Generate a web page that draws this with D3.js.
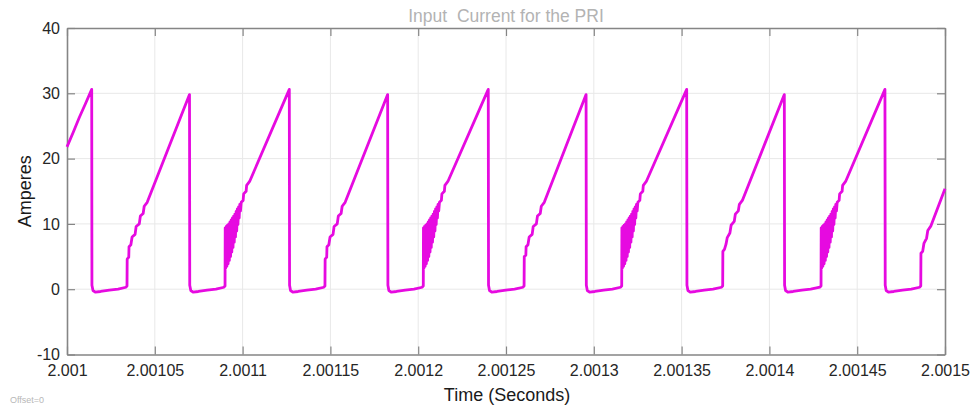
<!DOCTYPE html>
<html>
<head>
<meta charset="utf-8">
<script src="https://cdn.jsdelivr.net/npm/d3@7"></script>
<style>
  html, body { margin: 0; padding: 0; background: #fff; }
  svg { display: block; font-family: "Liberation Sans", Arial, sans-serif; }
</style>
</head>
<body>
<svg id="chart" width="973" height="410"></svg>
<script>
// ---- Data (time in microseconds after 2.001 s, current in amperes) ----
const T0 = 2.001;
const xTickValues = [2.001, 2.00105, 2.0011, 2.00115, 2.0012, 2.00125, 2.0013, 2.00135, 2.0014, 2.00145, 2.0015];
const xTickLabels = ["2.001", "2.00105", "2.0011", "2.00115", "2.0012", "2.00125", "2.0013", "2.00135", "2.0014", "2.00145", "2.0015"];
const yTickValues = [-10, 0, 10, 20, 30, 40];
const yTickLabels = ["-10", "0", "10", "20", "30", "40"];

const startRamp = [[0.0,21.8],[3.5,24.0],[7.0,26.3],[10.5,28.4],[14.07,30.6]];
const cycle1 = [[14.2,0.6],[14.8,-0.2],[16.1,-0.45],[19.1,-0.35],[24.1,-0.15],[29.1,0.0],[33.6,0.3],
  [34.17,0.5],[34.27,4.6],[35.17,4.9],[35.32,6.5],[36.37,6.8],[37.07,8.0],[38.77,8.4],[39.37,9.6],
  [41.17,10.0],[41.77,11.2],[43.37,11.6],[43.97,12.7],[45.67,13.3],[69.76,29.8]];
const cycle2 = [[69.9,0.6],[70.5,-0.2],[71.8,-0.45],[74.8,-0.35],[79.8,-0.15],[84.8,0.0],[89.4,0.3],
  [90.00,0.5],[90.10,9.4],[90.35,3.2],[90.70,9.6],[91.05,3.5],[91.40,9.8],[91.75,3.9],[92.10,10.0],
  [92.45,4.4],[92.80,10.3],[93.15,5.0],[93.50,10.6],[93.85,5.7],[94.20,10.9],[94.55,6.4],[94.90,11.2],
  [95.25,7.2],[95.60,11.5],[95.95,8.0],[96.30,11.9],[96.65,8.9],[97.00,12.3],[97.35,9.9],[97.70,12.6],
  [98.05,10.9],[98.40,13.0],[98.80,12.0],[99.20,13.3],[100.3,13.6],[100.6,14.6],[102.0,15.0],
  [102.3,15.9],[104.0,16.5],[126.6,30.6]];
const cycle3 = [[126.75,0.6],[127.3,-0.2],[128.6,-0.45],[131.6,-0.35],[136.6,-0.15],[141.6,0.0],[146.3,0.3],
  [146.9,0.5],[147.0,4.6],[147.9,4.9],[148.05,6.5],[149.1,6.8],[149.8,8.0],[151.5,8.4],[152.1,9.6],
  [153.9,10.0],[154.5,11.2],[156.1,11.6],[156.7,12.7],[158.4,13.3],[182.6,29.8]];
const cycle4 = [[182.75,0.6],[183.3,-0.2],[184.6,-0.45],[187.6,-0.35],[192.6,-0.15],[197.6,0.0],[202.3,0.3],
  [202.90,0.5],[203.00,9.4],[203.25,3.2],[203.60,9.6],[203.95,3.5],[204.30,9.8],[204.65,3.9],[205.00,10.0],
  [205.35,4.4],[205.70,10.3],[206.05,5.0],[206.40,10.6],[206.75,5.7],[207.10,10.9],[207.45,6.4],[207.80,11.2],
  [208.15,7.2],[208.50,11.5],[208.85,8.0],[209.20,11.9],[209.55,8.9],[209.90,12.3],[210.25,9.9],[210.60,12.6],
  [210.95,10.9],[211.30,13.0],[211.70,12.0],[212.10,13.3],[213.2,13.6],[213.5,14.6],[214.9,15.0],
  [215.2,15.9],[216.9,16.5],[239.9,30.6]];
const cycle5 = [[240.05,0.6],[240.6,-0.2],[241.9,-0.45],[244.9,-0.35],[249.9,-0.15],[254.9,0.0],[259.7,0.3],
  [260.3,0.5],[260.4,5.0],[261.3,5.2],[261.45,6.5],[262.5,6.8],[263.2,8.0],[264.9,8.4],[265.5,9.6],
  [267.3,10.0],[267.9,11.2],[269.5,11.6],[270.1,12.7],[271.8,13.3],[295.6,29.8]];
const cycle6 = [[295.75,0.6],[296.3,-0.2],[297.6,-0.45],[300.6,-0.35],[305.6,-0.15],[310.6,0.0],[315.3,0.3],
  [315.90,0.5],[316.00,9.4],[316.25,3.2],[316.60,9.6],[316.95,3.5],[317.30,9.8],[317.65,3.9],[318.00,10.0],
  [318.35,4.4],[318.70,10.3],[319.05,5.0],[319.40,10.6],[319.75,5.7],[320.10,10.9],[320.45,6.4],[320.80,11.2],
  [321.15,7.2],[321.50,11.5],[321.85,8.0],[322.20,11.9],[322.55,8.9],[322.90,12.3],[323.25,9.9],[323.60,12.6],
  [323.95,10.9],[324.30,13.0],[324.70,12.0],[325.10,13.3],[326.2,13.6],[326.5,14.6],[327.9,15.0],
  [328.2,15.9],[329.9,16.5],[352.9,30.6]];
const cycle7 = [[353.05,0.6],[353.6,-0.2],[354.9,-0.45],[357.9,-0.35],[362.9,-0.15],[367.9,0.0],[372.8,0.3],
  [373.4,0.5],[373.5,5.8],[374.4,6.1],[375.3,6.9],[376.0,7.9],[377.5,8.6],[378.2,9.8],[380.0,10.4],
  [380.6,11.5],[382.3,12.0],[382.9,13.0],[384.6,13.6],[408.5,29.8]];
const cycle8 = [[408.65,0.6],[409.2,-0.2],[410.5,-0.45],[413.5,-0.35],[418.5,-0.15],[423.5,0.0],[428.8,0.3],
  [429.40,0.5],[429.50,9.4],[429.75,3.2],[430.10,9.6],[430.45,3.5],[430.80,9.8],[431.15,3.9],[431.50,10.0],
  [431.85,4.4],[432.20,10.3],[432.55,5.0],[432.90,10.6],[433.25,5.7],[433.60,10.9],[433.95,6.4],[434.30,11.2],
  [434.65,7.2],[435.00,11.5],[435.35,8.0],[435.70,11.9],[436.05,8.9],[436.40,12.3],[436.75,9.9],[437.10,12.6],
  [437.45,10.9],[437.80,13.0],[438.20,12.0],[438.60,13.3],[439.7,13.6],[440.0,14.6],[441.4,15.0],
  [441.7,15.9],[443.4,16.5],[465.8,30.6]];
const cycle9 = [[465.95,0.6],[466.5,-0.2],[467.8,-0.45],[470.8,-0.35],[475.8,-0.15],[480.8,0.0],[485.6,0.3],
  [486.2,0.5],[486.3,5.5],[487.3,5.8],[488.0,7.0],[489.5,7.8],[490.2,9.0],[492.0,9.7],[500.0,15.4]];

// ---- Drawing ----
const W = 973, H = 410;
const plot = { left: 67, right: 945, top: 28, bottom: 354.5 };
const svg = d3.select("#chart");

const x = d3.scaleLinear().domain([2.001, 2.0015]).range([plot.left, plot.right]);
const y = d3.scaleLinear().domain([-10, 40]).range([plot.bottom, plot.top]);

const trace = [startRamp, cycle1, cycle2, cycle3, cycle4, cycle5, cycle6, cycle7, cycle8, cycle9]
  .flat()
  .map(([us, a]) => ({ t: T0 + us * 1e-6, a }));

// grid
const grid = svg.append("g").attr("stroke", "#e8e8e8").attr("stroke-width", 1);
grid.selectAll("line.gx").data(xTickValues.slice(1, -1)).join("line")
  .attr("x1", d => x(d)).attr("x2", d => x(d))
  .attr("y1", plot.top).attr("y2", plot.bottom);
grid.selectAll("line.gy").data(yTickValues.slice(1, -1)).join("line")
  .attr("x1", plot.left).attr("x2", plot.right)
  .attr("y1", d => y(d)).attr("y2", d => y(d));

// axes
const axisColor = "#858585";
function styleAxis(g) {
  g.select(".domain").attr("stroke", axisColor).attr("stroke-width", 1.6);
  g.selectAll(".tick line").attr("stroke", axisColor).attr("stroke-width", 1.2);
  g.selectAll(".tick text").attr("fill", "#262626").attr("font-size", "16px")
    .attr("font-family", "'Liberation Sans', Arial, sans-serif");
}
svg.append("g").attr("transform", `translate(0,${plot.bottom})`)
  .call(d3.axisBottom(x).tickValues(xTickValues).tickFormat((d, i) => xTickLabels[i])
    .tickSizeInner(-8).tickSizeOuter(0).tickPadding(10))
  .call(styleAxis);
svg.append("g").attr("transform", `translate(0,${plot.top})`)
  .call(d3.axisTop(x).tickValues(xTickValues).tickFormat("").tickSizeInner(-8).tickSizeOuter(0))
  .call(styleAxis);
svg.append("g").attr("transform", `translate(${plot.left},0)`)
  .call(d3.axisLeft(y).tickValues(yTickValues).tickFormat((d, i) => yTickLabels[i])
    .tickSizeInner(-8).tickSizeOuter(0).tickPadding(7))
  .call(styleAxis);
svg.append("g").attr("transform", `translate(${plot.right},0)`)
  .call(d3.axisRight(y).tickValues(yTickValues).tickFormat("").tickSizeInner(-8).tickSizeOuter(0))
  .call(styleAxis);

// trace
const line = d3.line().x(d => x(d.t)).y(d => y(d.a));
svg.append("path").datum(trace)
  .attr("fill", "none")
  .attr("stroke", "#e60ae0")
  .attr("stroke-width", 2.8)
  .attr("stroke-linejoin", "round")
  .attr("d", line);

// texts
svg.append("text").attr("x", (plot.left + plot.right) / 2).attr("y", 22)
  .attr("text-anchor", "middle").attr("font-size", "17.5px").attr("fill", "#b3b3b3")
  .attr("xml:space", "preserve").style("white-space", "pre")
  .text("Input  Current for the PRI");
svg.append("text").attr("x", (plot.left + plot.right) / 2 + 1).attr("y", 401)
  .attr("text-anchor", "middle").attr("font-size", "18px").attr("fill", "#1a1a1a")
  .text("Time (Seconds)");
svg.append("text").attr("transform", `translate(31,${(plot.top + plot.bottom) / 2}) rotate(-90)`)
  .attr("text-anchor", "middle").attr("font-size", "18px").attr("fill", "#1a1a1a")
  .text("Amperes");
svg.append("text").attr("x", 10).attr("y", 403)
  .attr("font-size", "9px").attr("fill", "#b8b8b8")
  .text("Offset=0");
</script>
</body>
</html>
